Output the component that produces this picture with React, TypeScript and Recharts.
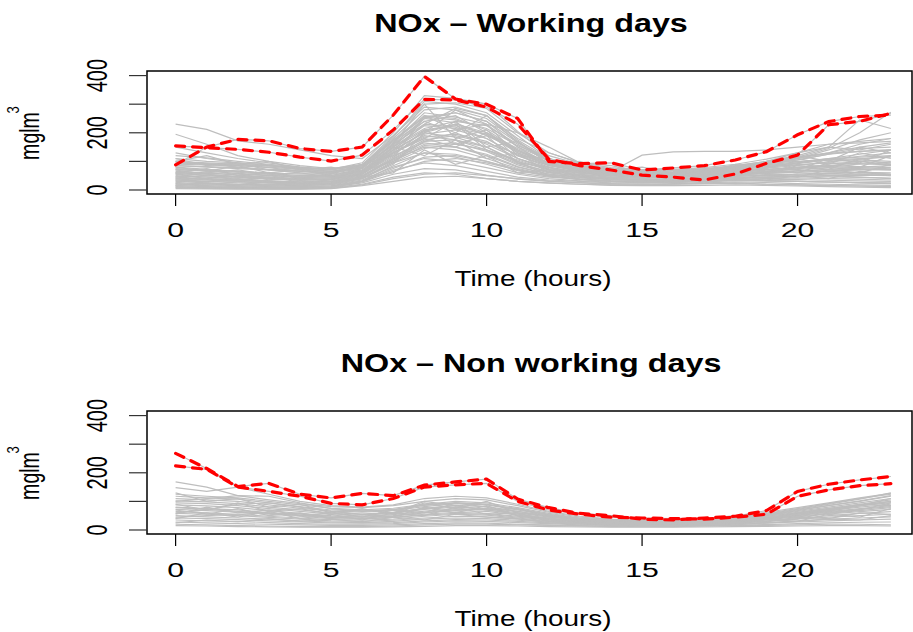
import { LineChart, Line, XAxis, YAxis, ReferenceArea } from "recharts";

const hours = [0, 1, 2, 3, 4, 5, 6, 7, 8, 9, 10, 11, 12, 13, 14, 15, 16, 17, 18, 19, 20, 21, 22, 23];
const xTicks = [0, 5, 10, 15, 20];
const yTicks = [0, 100, 200, 300, 400];

// grey curves, one per working day (NOx, hourly)
const workingGrey = [
  [10, 8, 6, 5, 5, 8, 20, 45, 60, 55, 40, 30, 25, 20, 18, 18, 20, 22, 25, 20, 18, 15, 14, 12],
  [20, 18, 15, 12, 10, 14, 30, 70, 95, 85, 65, 45, 35, 30, 25, 24, 26, 30, 35, 32, 30, 28, 25, 22],
  [35, 30, 25, 20, 18, 22, 40, 95, 130, 115, 90, 60, 45, 38, 32, 30, 32, 36, 42, 45, 48, 50, 45, 40],
  [50, 45, 38, 32, 28, 30, 55, 120, 165, 150, 120, 80, 55, 45, 40, 38, 40, 45, 52, 58, 62, 65, 60, 55],
  [65, 60, 52, 45, 40, 42, 65, 140, 200, 185, 150, 100, 70, 55, 48, 45, 48, 55, 62, 70, 80, 85, 82, 78],
  [80, 72, 65, 58, 50, 50, 75, 160, 230, 220, 180, 120, 85, 65, 55, 52, 55, 60, 70, 82, 95, 110, 115, 120],
  [95, 90, 85, 78, 65, 60, 80, 175, 260, 250, 210, 140, 95, 70, 60, 55, 58, 65, 78, 90, 105, 125, 135, 140],
  [30, 25, 20, 18, 15, 18, 35, 80, 110, 100, 78, 55, 40, 32, 28, 26, 28, 32, 38, 40, 42, 40, 38, 35],
  [45, 40, 36, 30, 25, 28, 48, 105, 150, 140, 110, 75, 52, 42, 36, 34, 36, 40, 48, 52, 55, 58, 55, 50],
  [15, 12, 10, 8, 8, 10, 25, 55, 75, 70, 52, 38, 30, 25, 20, 20, 22, 25, 28, 26, 22, 20, 18, 16],
  [60, 55, 48, 42, 35, 35, 58, 130, 185, 195, 170, 110, 72, 58, 50, 48, 50, 55, 60, 65, 72, 78, 75, 70],
  [75, 70, 65, 60, 55, 55, 70, 150, 215, 240, 225, 160, 100, 75, 62, 58, 60, 68, 80, 95, 100, 105, 100, 95],
  [230, 212, 172, 160, 140, 120, 110, 190, 290, 280, 250, 170, 100, 80, 65, 60, 62, 70, 85, 100, 115, 130, 150, 165],
  [195, 160, 120, 100, 85, 75, 90, 170, 255, 270, 240, 150, 90, 72, 62, 58, 60, 66, 78, 88, 98, 110, 125, 140],
  [150, 130, 110, 95, 80, 70, 85, 155, 240, 260, 200, 130, 88, 70, 60, 55, 58, 62, 72, 85, 95, 105, 118, 130],
  [130, 110, 95, 85, 72, 65, 78, 150, 225, 215, 195, 135, 92, 74, 64, 122, 133, 135, 135, 140, 150, 160, 165, 170],
  [100, 95, 90, 85, 78, 72, 95, 200, 330, 320, 300, 205, 120, 90, 75, 68, 70, 75, 85, 100, 120, 150, 245, 215],
  [85, 80, 75, 70, 65, 62, 85, 185, 310, 300, 270, 190, 110, 85, 70, 65, 68, 72, 82, 95, 115, 145, 200, 272],
  [90, 88, 85, 80, 72, 65, 82, 180, 280, 290, 260, 165, 110, 80, 68, 60, 62, 68, 78, 92, 110, 130, 160, 180],
  [70, 68, 62, 55, 48, 45, 68, 150, 250, 270, 240, 165, 105, 80, 65, 60, 62, 68, 75, 82, 88, 95, 92, 88],
  [55, 50, 45, 40, 35, 38, 60, 135, 205, 230, 200, 145, 95, 70, 58, 52, 55, 60, 66, 72, 78, 85, 90, 95],
  [40, 38, 35, 32, 28, 30, 50, 115, 175, 190, 165, 125, 88, 65, 52, 45, 46, 50, 55, 58, 62, 66, 70, 72],
  [25, 22, 20, 18, 16, 20, 40, 95, 145, 160, 140, 105, 70, 50, 40, 35, 36, 40, 44, 46, 48, 50, 52, 50],
  [12, 10, 8, 8, 7, 10, 28, 65, 100, 110, 95, 70, 48, 36, 30, 28, 28, 30, 32, 32, 30, 28, 26, 24],
  [8, 6, 5, 4, 4, 6, 18, 40, 55, 60, 50, 40, 32, 26, 22, 20, 20, 22, 22, 20, 18, 16, 14, 12],
  [5, 4, 3, 3, 3, 5, 15, 30, 45, 48, 40, 30, 24, 20, 16, 15, 15, 16, 18, 16, 14, 12, 10, 8],
  [100, 90, 80, 70, 60, 58, 75, 165, 270, 255, 230, 150, 105, 80, 70, 65, 68, 72, 80, 92, 105, 125, 145, 150],
  [110, 100, 95, 88, 75, 65, 78, 160, 250, 235, 190, 140, 95, 72, 60, 55, 58, 65, 75, 90, 110, 140, 175, 200],
  [62, 58, 55, 50, 44, 42, 62, 140, 230, 285, 260, 175, 110, 78, 62, 56, 58, 62, 68, 72, 76, 82, 78, 74],
  [48, 46, 42, 38, 34, 36, 55, 125, 195, 210, 180, 120, 80, 62, 50, 46, 47, 52, 58, 62, 68, 72, 80, 85],
  [38, 34, 30, 26, 22, 25, 45, 110, 170, 175, 150, 95, 62, 48, 40, 36, 38, 42, 48, 52, 56, 60, 62, 60],
  [22, 20, 18, 15, 12, 15, 32, 85, 130, 125, 100, 68, 48, 38, 32, 30, 30, 34, 38, 38, 36, 34, 32, 30],
  [85, 82, 78, 72, 66, 62, 80, 170, 240, 200, 160, 110, 78, 62, 52, 48, 50, 56, 65, 78, 92, 105, 110, 115],
  [120, 112, 100, 90, 80, 72, 88, 175, 255, 245, 215, 155, 110, 82, 68, 62, 64, 70, 82, 96, 112, 128, 135, 140],
  [32, 30, 28, 24, 20, 22, 42, 100, 155, 150, 125, 82, 56, 44, 36, 33, 34, 38, 42, 44, 46, 46, 44, 42],
  [18, 15, 12, 10, 10, 12, 30, 75, 115, 120, 100, 72, 50, 38, 30, 27, 28, 30, 34, 33, 30, 28, 26, 24],
  [72, 66, 58, 52, 46, 46, 66, 145, 210, 225, 195, 130, 88, 68, 56, 52, 54, 60, 68, 76, 86, 98, 108, 118],
  [58, 52, 46, 40, 36, 38, 58, 130, 190, 175, 140, 92, 65, 52, 45, 42, 44, 48, 55, 60, 66, 70, 72, 70],
  [42, 38, 33, 28, 24, 26, 46, 108, 160, 165, 135, 88, 60, 48, 40, 36, 38, 43, 48, 50, 52, 55, 56, 54],
  [95, 92, 88, 84, 76, 70, 88, 190, 300, 305, 285, 200, 130, 95, 78, 70, 72, 78, 90, 108, 130, 160, 170, 180],
  [60, 75, 50, 62, 40, 55, 90, 120, 210, 160, 190, 95, 80, 48, 55, 40, 52, 45, 70, 58, 85, 72, 110, 90],
  [25, 40, 30, 45, 28, 35, 60, 150, 120, 175, 110, 130, 60, 70, 42, 50, 38, 55, 48, 70, 60, 95, 80, 120],
  [110, 85, 95, 70, 75, 50, 70, 130, 180, 240, 150, 170, 90, 100, 60, 70, 55, 60, 90, 75, 120, 100, 150, 130],
  [45, 60, 70, 55, 60, 45, 50, 110, 260, 210, 230, 120, 110, 65, 75, 45, 60, 50, 55, 80, 70, 110, 95, 140],
  [15, 25, 18, 30, 20, 25, 45, 60, 140, 90, 120, 60, 70, 35, 45, 30, 35, 25, 40, 35, 50, 40, 65, 55],
  [80, 65, 85, 60, 70, 48, 65, 100, 170, 200, 260, 180, 130, 95, 70, 80, 60, 75, 65, 90, 110, 90, 130, 110],
  [35, 28, 40, 25, 32, 20, 40, 90, 200, 230, 140, 100, 50, 55, 35, 40, 30, 45, 35, 55, 45, 70, 60, 90],
  [70, 55, 45, 50, 35, 40, 75, 160, 300, 180, 210, 110, 75, 60, 50, 55, 45, 50, 60, 65, 75, 90, 100, 85],
  [100, 120, 90, 100, 70, 80, 60, 140, 200, 280, 230, 200, 150, 95, 85, 65, 70, 60, 80, 100, 130, 150, 140, 160],
  [55, 40, 60, 35, 45, 30, 55, 130, 180, 150, 200, 140, 85, 75, 50, 60, 45, 65, 50, 60, 90, 80, 105, 100],
];

// highlighted (red dashed) working days
const workingRed = [
  [154, 148, 142, 132, 115, 101, 122, 210, 317, 315, 290, 230, 108, 85, 70, 52, 45, 35, 56, 93, 122, 228, 240, 268],
  [88, 150, 177, 172, 145, 135, 150, 262, 397, 318, 300, 250, 100, 92, 95, 70, 77, 85, 105, 134, 193, 239, 257, 262],
];

const nonWorkingGrey = [
  [20, 18, 15, 14, 12, 12, 12, 14, 18, 20, 20, 18, 16, 14, 12, 12, 12, 14, 15, 16, 18, 20, 20, 18],
  [35, 32, 30, 26, 22, 20, 20, 22, 28, 32, 30, 26, 22, 18, 16, 15, 15, 17, 20, 24, 28, 32, 35, 38],
  [50, 46, 42, 38, 32, 28, 26, 30, 38, 42, 40, 34, 28, 22, 19, 18, 18, 20, 24, 30, 38, 45, 50, 55],
  [65, 60, 55, 48, 42, 36, 34, 38, 48, 55, 52, 42, 32, 26, 22, 20, 20, 24, 28, 36, 46, 56, 64, 72],
  [80, 75, 70, 60, 52, 45, 42, 48, 60, 68, 65, 52, 38, 30, 25, 22, 22, 26, 32, 42, 55, 68, 80, 90],
  [95, 92, 85, 75, 65, 56, 52, 58, 72, 80, 75, 60, 45, 34, 28, 25, 25, 30, 36, 48, 62, 76, 90, 105],
  [110, 105, 100, 88, 76, 66, 62, 68, 82, 92, 88, 70, 52, 38, 32, 28, 28, 34, 40, 52, 68, 85, 100, 118],
  [125, 118, 112, 100, 88, 76, 70, 76, 90, 100, 95, 78, 58, 42, 35, 30, 30, 36, 44, 56, 72, 90, 108, 130],
  [168, 150, 120, 105, 92, 82, 78, 85, 100, 110, 105, 85, 62, 45, 37, 32, 32, 38, 46, 58, 75, 92, 110, 125],
  [148, 135, 150, 125, 100, 85, 80, 88, 110, 118, 112, 90, 65, 48, 38, 33, 33, 40, 50, 62, 78, 95, 112, 128],
  [28, 25, 22, 20, 18, 16, 16, 18, 22, 25, 24, 20, 18, 15, 14, 13, 13, 15, 17, 19, 22, 25, 27, 28],
  [42, 40, 36, 32, 28, 25, 24, 26, 32, 36, 35, 30, 25, 20, 17, 16, 16, 18, 22, 26, 32, 38, 42, 46],
  [58, 55, 50, 44, 38, 32, 30, 34, 42, 48, 46, 38, 30, 24, 20, 18, 18, 21, 25, 32, 40, 50, 58, 64],
  [72, 68, 62, 55, 48, 40, 38, 44, 55, 62, 58, 48, 36, 28, 23, 21, 21, 25, 30, 38, 50, 62, 72, 82],
  [88, 84, 78, 68, 58, 50, 48, 54, 66, 74, 70, 56, 42, 32, 26, 23, 23, 28, 34, 44, 58, 72, 84, 96],
  [102, 98, 92, 80, 70, 60, 56, 62, 76, 86, 82, 65, 48, 36, 30, 26, 26, 32, 38, 50, 65, 80, 95, 110],
  [118, 112, 108, 95, 82, 70, 66, 72, 86, 95, 90, 72, 54, 40, 33, 29, 29, 35, 42, 54, 70, 86, 102, 120],
  [15, 14, 12, 11, 10, 10, 10, 11, 13, 15, 15, 14, 12, 11, 10, 10, 10, 11, 12, 13, 14, 15, 15, 14],
  [60, 70, 90, 95, 80, 65, 55, 60, 75, 85, 70, 55, 40, 30, 25, 22, 22, 26, 30, 40, 52, 64, 75, 85],
  [100, 110, 120, 118, 95, 75, 65, 70, 88, 95, 90, 75, 55, 40, 32, 28, 28, 33, 40, 48, 60, 75, 88, 100],
  [45, 50, 55, 60, 55, 48, 45, 50, 62, 70, 75, 65, 48, 35, 28, 24, 24, 28, 34, 42, 55, 70, 85, 100],
  [78, 72, 65, 58, 50, 44, 40, 44, 52, 58, 55, 45, 35, 28, 24, 22, 22, 25, 30, 38, 48, 58, 68, 78],
  [70, 55, 75, 50, 60, 40, 55, 45, 80, 60, 85, 50, 40, 28, 32, 20, 26, 22, 30, 28, 45, 40, 60, 55],
  [40, 60, 45, 65, 40, 55, 35, 60, 50, 80, 55, 60, 30, 35, 22, 25, 18, 28, 22, 38, 30, 55, 45, 75],
  [130, 100, 110, 80, 90, 60, 75, 55, 95, 75, 100, 60, 50, 35, 30, 26, 30, 24, 36, 40, 60, 70, 90, 85],
  [25, 35, 28, 40, 30, 38, 28, 45, 35, 55, 45, 40, 26, 22, 18, 20, 15, 20, 18, 25, 30, 38, 35, 50],
  [90, 70, 95, 65, 75, 55, 70, 60, 100, 85, 70, 75, 45, 40, 25, 30, 22, 30, 28, 45, 55, 65, 85, 110],
  [55, 80, 60, 70, 50, 60, 45, 70, 60, 95, 80, 50, 35, 30, 20, 24, 20, 26, 25, 35, 40, 60, 70, 95],
];

const nonWorkingRed = [
  [268, 215, 152, 163, 125, 112, 128, 120, 157, 168, 178, 108, 78, 58, 50, 38, 35, 42, 48, 68, 135, 160, 175, 187],
  [224, 212, 150, 135, 118, 93, 88, 110, 150, 158, 163, 100, 70, 55, 45, 42, 40, 38, 45, 55, 118, 140, 155, 162],
];

const FONT = "'Liberation Sans', Arial, Helvetica, sans-serif";

const buildRows = (grey: number[][], red: number[][]) =>
  hours.map((h, i) => {
    const row: Record<string, number> = { h };
    grey.forEach((s, j) => (row["g" + j] = s[i]));
    red.forEach((s, j) => (row["r" + j] = s[i]));
    return row;
  });

const XTick = (props: any) => {
  const { x, y, payload } = props;
  return (
    <text
      transform={`translate(${x},${y + 31}) scale(1.55,1)`}
      textAnchor="middle"
      fontSize={19.5}
      fontFamily={FONT}
      fill="#000"
    >
      {payload.value}
    </text>
  );
};

const YTick = (props: any) => {
  const { x, y, payload } = props;
  if (payload.value % 200 !== 0) return <g />;
  return (
    <text
      transform={`translate(${x - 32.3},${y}) rotate(-90) scale(1,1.49)`}
      x={0}
      y={7.2}
      textAnchor="middle"
      fontSize={20}
      fontFamily={FONT}
      fill="#000"
    >
      {payload.value}
    </text>
  );
};

const Panel = ({ grey, red, top }: { grey: number[][]; red: number[][]; top: number }) => {
  const rows = buildRows(grey, red);
  return (
    <div style={{ position: "absolute", left: 0, top, width: 913, height: 300 }}>
      <LineChart width={913} height={300} data={rows} margin={{ top: 71, right: 1, bottom: 0, left: 0 }}>
        <XAxis
          dataKey="h"
          type="number"
          domain={[-0.92, 23.68]}
          allowDataOverflow
          ticks={xTicks}
          height={106}
          tickSize={12}
          tickMargin={0}
          axisLine={false}
          tickLine={{ stroke: "#000", strokeWidth: 1.2 }}
          tick={<XTick />}
        />
        <YAxis
          type="number"
          domain={[-14, 416]}
          allowDataOverflow
          ticks={yTicks}
          width={147}
          tickSize={18}
          tickMargin={0}
          axisLine={false}
          tickLine={{ stroke: "#333", strokeWidth: 1.2 }}
          tick={<YTick />}
        />
        {grey.map((_, j) => (
          <Line
            key={"g" + j}
            dataKey={"g" + j}
            type="linear"
            stroke="#BEBEBE"
            strokeWidth={1.2}
            dot={false}
            activeDot={false}
            isAnimationActive={false}
          />
        ))}
        {red.map((_, j) => (
          <Line
            key={"rg" + j}
            dataKey={"r" + j}
            type="linear"
            stroke="#BEBEBE"
            strokeWidth={1.2}
            dot={false}
            activeDot={false}
            isAnimationActive={false}
          />
        ))}
        {red.map((_, j) => (
          <Line
            key={"r" + j}
            dataKey={"r" + j}
            type="linear"
            stroke="#FF0000"
            strokeWidth={3.2}
            strokeDasharray="9 8"
            strokeLinecap="round"
            dot={false}
            activeDot={false}
            isAnimationActive={false}
          />
        ))}
        <ReferenceArea
          x1={-0.92}
          x2={23.68}
          y1={-14}
          y2={416}
          fill="none"
          stroke="#000"
          strokeWidth={1.5}
          ifOverflow="visible"
        />
      </LineChart>
    </div>
  );
};

const Labels = ({ title, dy }: { title: string; dy: number }) => (
  <g fontFamily={FONT} fill="#000">
    <text transform={`translate(531,${31.7 + dy}) scale(1.22,1)`} textAnchor="middle" fontSize={26.5} fontWeight="bold">
      {title}
    </text>
    <text transform={`translate(533,${285.7 + dy}) scale(1.27,1)`} textAnchor="middle" fontSize={22}>
      Time (hours)
    </text>
    <text transform={`translate(39,${136 + dy}) rotate(-90) scale(1,1.4)`} textAnchor="middle" fontSize={19.6}>
      mglm
    </text>
    <text transform={`translate(19,${110 + dy}) rotate(-90) scale(1,1.3)`} textAnchor="middle" fontSize={13}>
      3
    </text>
  </g>
);

export default function App() {
  return (
    <div style={{ position: "absolute", left: 0, top: 0, width: 913, height: 632, background: "#fff", overflow: "hidden" }}>
      <Panel grey={workingGrey} red={workingRed} top={0} />
      <Panel grey={nonWorkingGrey} red={nonWorkingRed} top={340} />
      <svg width={913} height={632} style={{ position: "absolute", left: 0, top: 0, pointerEvents: "none" }}>
        <Labels title="NOx – Working days" dy={0} />
        <Labels title="NOx – Non working days" dy={340} />
      </svg>
    </div>
  );
}
